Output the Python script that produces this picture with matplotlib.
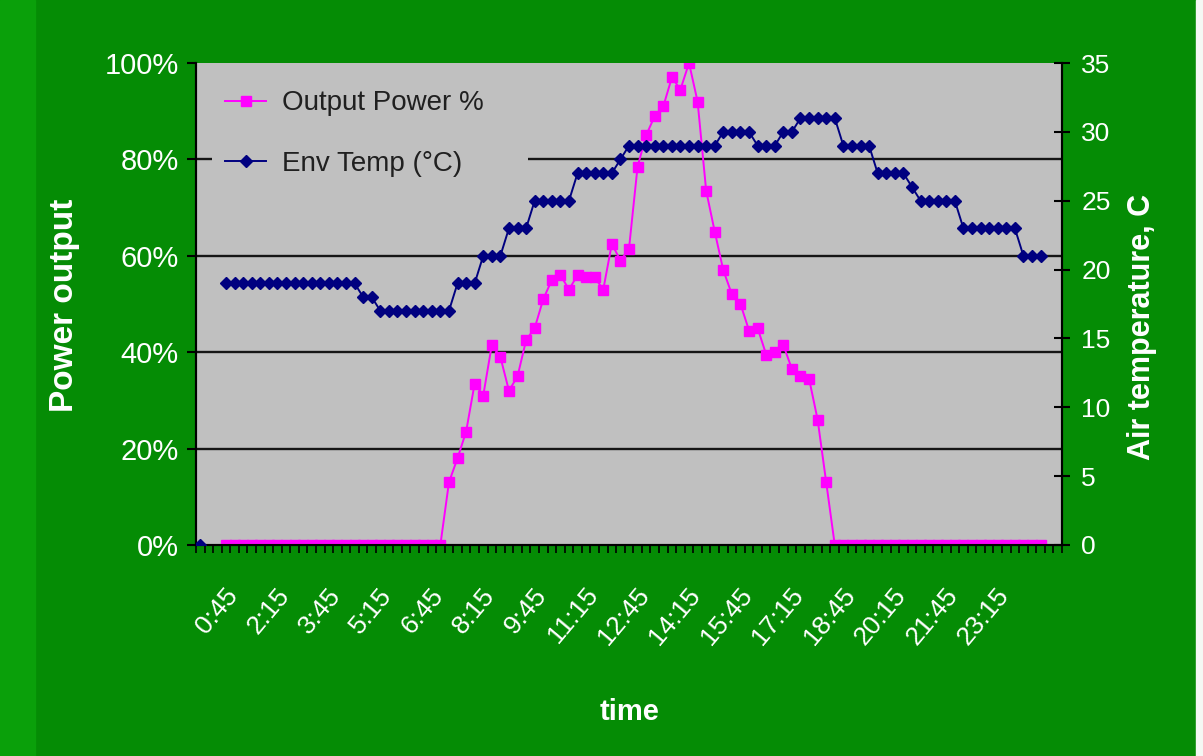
import matplotlib
matplotlib.use('Agg')
import matplotlib.pyplot as plt
import numpy as np
from matplotlib.ticker import PercentFormatter, FixedLocator, MultipleLocator
from matplotlib.transforms import ScaledTranslation
import matplotlib.patches as mpatches

plt.rcParams['font.family'] = ['Liberation Sans', 'DejaVu Sans']

nan = np.nan

# ---- data (15-minute categories) ----
n_categories = 101
tick_labels = ['0:45', '2:15', '3:45', '5:15', '6:45', '8:15', '9:45', '11:15',
               '12:45', '14:15', '15:45', '17:15', '18:45', '20:15', '21:45', '23:15']
label_step = 6

output_power_pct = [
    nan, nan, nan,
    0, 0, 0, 0, 0, 0, 0, 0, 0, 0, 0, 0, 0, 0, 0, 0, 0, 0, 0, 0, 0, 0, 0, 0, 0, 0,
    13, 18, 23.5, 33.5, 31, 41.5, 39, 32, 35, 42.5, 45, 51, 55, 56, 53, 56, 55.5,
    55.5, 53, 62.5, 59, 61.5, 78.5, 85, 89, 91, 97, 94.5, 100, 92, 73.5, 65, 57,
    52, 50, 44.5, 45, 39.5, 40, 41.5, 36.5, 35, 34.5, 26, 13,
    0, 0, 0, 0, 0, 0, 0, 0, 0, 0, 0, 0, 0, 0, 0, 0, 0, 0, 0, 0, 0, 0, 0, 0, 0,
    nan, nan,
]

env_temp_c = [
    0, nan, nan,
    19, 19, 19, 19, 19, 19, 19, 19, 19, 19, 19, 19, 19, 19, 19, 19,
    18, 18,
    17, 17, 17, 17, 17, 17, 17, 17, 17,
    19, 19, 19,
    21, 21, 21,
    23, 23, 23,
    25, 25, 25, 25, 25,
    27, 27, 27, 27, 27,
    28,
    29, 29, 29, 29, 29, 29, 29, 29, 29, 29, 29,
    30, 30, 30, 30,
    29, 29, 29,
    30, 30,
    31, 31, 31, 31, 31,
    29, 29, 29, 29,
    27, 27, 27, 27,
    26,
    25, 25, 25, 25, 25,
    23, 23, 23, 23, 23, 23, 23,
    21, 21, 21,
    nan, nan,
]

# ---- style ----
GREEN = '#058C05'
PLOT_BG = '#C0C0C0'
PINK = '#FF00FF'
NAVY = '#000080'

fig = plt.figure(figsize=(12.03, 7.56), dpi=100, facecolor=GREEN)
W, H = 1203, 756
fig.patches.append(mpatches.Rectangle((0, 0), 35 / W, 1, transform=fig.transFigure,
                                      color='#0AA00A', zorder=0))
fig.patches.append(mpatches.Rectangle((1196 / W, 0), 7 / W, 1, transform=fig.transFigure,
                                      color='#F4F8F4', zorder=0))

left, right, top, bottom = 196, 1062, 63, 545
ax = fig.add_axes([left / W, 1 - bottom / H, (right - left) / W, (bottom - top) / H])
ax.set_facecolor(PLOT_BG)
ax2 = ax.twinx()

x = np.arange(n_categories)

ax.plot(x, output_power_pct, color=PINK, lw=1.4, marker='s', ms=7,
        mec=PINK, mfc=PINK, label='Output Power %', zorder=3)
ax2.plot(x, env_temp_c, color=NAVY, lw=1.4, marker='D', ms=5.8,
         mec=NAVY, mfc=NAVY, label='Env Temp (°C)', zorder=3)

ax.set_xlim(-0.5, n_categories - 0.5)
ax.set_ylim(0, 100)
ax2.set_ylim(0, 35)

for g in [20, 40, 60, 80]:
    ax.axhline(g, color='#151515', lw=1.7, zorder=1)

for a in (ax, ax2):
    a.spines['top'].set_visible(False)
    for s in ('left', 'right', 'bottom'):
        a.spines[s].set_color('black')
        a.spines[s].set_linewidth(1.5)

ax.yaxis.set_major_locator(MultipleLocator(20))
ax.yaxis.set_major_formatter(PercentFormatter(100, decimals=0))
ax.tick_params(axis='y', direction='out', length=6.5, width=1.5, color='black',
               labelsize=21, labelcolor='white', pad=6)
ax2.yaxis.set_major_locator(MultipleLocator(5))
ax2.tick_params(axis='y', direction='inout', length=12, width=1.5, color='black',
                labelsize=19, labelcolor='white', pad=8)

label_pos = list(range(0, label_step * len(tick_labels), label_step))
ax.xaxis.set_major_locator(FixedLocator(label_pos))
ax.set_xticklabels(tick_labels)
ax.xaxis.set_minor_locator(FixedLocator(np.arange(n_categories + 1) - 0.5))
ax.tick_params(axis='x', which='major', length=0, labelsize=19, labelcolor='white', pad=0)
ax.tick_params(axis='x', which='minor', direction='out', length=6, width=1.2, color='black')
offset = ScaledTranslation(0.33, -0.46, fig.dpi_scale_trans)
for lab in ax.get_xticklabels():
    lab.set_rotation(50)
    lab.set_rotation_mode('anchor')
    lab.set_ha('right')
    lab.set_va('center')
    lab.set_transform(lab.get_transform() + offset)

fig.text(65 / W, 1 - 305 / H, 'Power output', rotation=90, ha='center', va='center',
         fontsize=24, fontweight='bold', color='white')
fig.text(1142 / W, 1 - 327 / H, 'Air temperature, C', rotation=90, ha='center', va='center',
         fontsize=22, fontweight='bold', color='white')
fig.text(630 / W, 1 - 712 / H, 'time', ha='center', va='center',
         fontsize=21, fontweight='bold', color='white')

# legend background box (covers the gridline like the original)
ax2.add_patch(mpatches.Rectangle(((212 - left) / (right - left), (bottom - 198) / (bottom - top)),
                                 (528 - 212) / (right - left), (198 - 68) / (bottom - top),
                                 transform=ax2.transAxes, facecolor=PLOT_BG, edgecolor='none',
                                 zorder=2))
h1, l1 = ax.get_legend_handles_labels()
h2, l2 = ax2.get_legend_handles_labels()
leg = ax2.legend(h1 + h2, l1 + l2, loc='upper left', bbox_to_anchor=(0.018, 0.972),
                 fontsize=20, frameon=False, handlelength=1.45, handletextpad=0.6,
                 labelspacing=1.25, borderpad=0.5, borderaxespad=0)
for t in leg.get_texts():
    t.set_color('#202020')

fig.savefig('out.png', dpi=100, facecolor=fig.get_facecolor())
